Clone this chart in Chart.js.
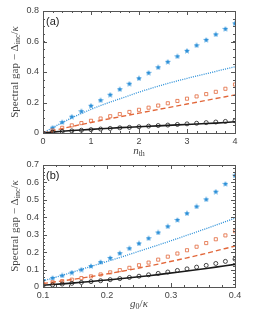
<!DOCTYPE html>
<html>
<head>
<meta charset="utf-8">
<script src="https://cdn.jsdelivr.net/npm/chart.js@4"></script>
<style>
  body { margin: 0; background: #fff; }
  #wrap { position: relative; width: 269px; height: 309px; overflow: hidden; }
  .panel { position: absolute; left: 0; width: 269px; }
</style>
</head>
<body>
<div id="wrap">
  <div class="panel" style="top:0;height:160px"><canvas id="chartA"></canvas></div>
  <div class="panel" style="top:150px;height:159px"><canvas id="chartB"></canvas></div>
</div>
<script>
// --- panel (a): gap vs n_th ---
const nth = [0, 0.2, 0.4, 0.6, 0.8, 1.0, 1.2, 1.4, 1.6, 1.8, 2.0, 2.2, 2.4, 2.6, 2.8, 3.0, 3.2, 3.4, 3.6, 3.8, 4.0];
const starA = [0, 0.035, 0.071, 0.107, 0.143, 0.179, 0.215, 0.251, 0.287, 0.323, 0.359, 0.395, 0.431, 0.467, 0.503, 0.539, 0.575, 0.611, 0.647, 0.683, 0.719];
const dotA = [0, 0.035, 0.068, 0.099, 0.128, 0.155, 0.180, 0.203, 0.224, 0.246, 0.268, 0.288, 0.307, 0.325, 0.342, 0.358, 0.374, 0.389, 0.404, 0.419, 0.434];
const squareA = [0, 0.017, 0.034, 0.05, 0.065, 0.08, 0.095, 0.11, 0.124, 0.138, 0.152, 0.166, 0.18, 0.195, 0.21, 0.225, 0.24, 0.255, 0.27, 0.29, 0.318];
const dashA = [0, 0.015, 0.029, 0.043, 0.056, 0.069, 0.082, 0.094, 0.106, 0.118, 0.13, 0.142, 0.154, 0.166, 0.178, 0.19, 0.202, 0.214, 0.226, 0.238, 0.25];
const circleA = [0, 0.005, 0.01, 0.014, 0.018, 0.022, 0.026, 0.03, 0.034, 0.037, 0.041, 0.045, 0.049, 0.052, 0.056, 0.06, 0.064, 0.068, 0.072, 0.076, 0.08];
const lineA = [0, 0.006, 0.011, 0.016, 0.02, 0.024, 0.028, 0.031, 0.035, 0.038, 0.041, 0.044, 0.047, 0.05, 0.053, 0.056, 0.059, 0.062, 0.065, 0.069, 0.074];

// --- panel (b): gap vs g0/kappa ---
const g0 = [0.1, 0.115, 0.13, 0.145, 0.16, 0.175, 0.19, 0.205, 0.22, 0.235, 0.25, 0.265, 0.28, 0.295, 0.31, 0.325, 0.34, 0.355, 0.37, 0.385, 0.4];
const starB = [0.04, 0.052, 0.066, 0.083, 0.1, 0.12, 0.143, 0.167, 0.194, 0.222, 0.25, 0.28, 0.313, 0.348, 0.385, 0.423, 0.462, 0.503, 0.547, 0.592, 0.64];
const dotB = [0.035, 0.051, 0.067, 0.084, 0.101, 0.118, 0.135, 0.152, 0.169, 0.187, 0.205, 0.223, 0.241, 0.259, 0.278, 0.297, 0.316, 0.335, 0.355, 0.375, 0.395];
const squareB = [0.02, 0.027, 0.034, 0.042, 0.051, 0.061, 0.072, 0.084, 0.097, 0.11, 0.125, 0.14, 0.157, 0.174, 0.192, 0.211, 0.231, 0.252, 0.274, 0.296, 0.32];
const dashB = [0.02, 0.027, 0.035, 0.043, 0.051, 0.06, 0.069, 0.078, 0.088, 0.098, 0.109, 0.12, 0.131, 0.143, 0.155, 0.167, 0.18, 0.193, 0.207, 0.221, 0.235];
const circleB = [0.008, 0.012, 0.017, 0.021, 0.026, 0.031, 0.036, 0.042, 0.048, 0.055, 0.062, 0.07, 0.078, 0.086, 0.095, 0.104, 0.114, 0.124, 0.135, 0.147, 0.16];
const lineB = [0.01, 0.014, 0.018, 0.022, 0.027, 0.032, 0.037, 0.042, 0.047, 0.053, 0.059, 0.065, 0.071, 0.078, 0.085, 0.092, 0.099, 0.106, 0.114, 0.122, 0.13];

const BLUE = '#2a8fd8';
const ORANGE = '#e2673a';
const BLACK = '#1a1a1a';
const TICK_FONT = { family: 'Liberation Sans', size: 9 };
const TITLE_FONT = '"Liberation Serif", serif';

// small filled pentagram for the star markers
function makeStar(color) {
    const c = document.createElement('canvas');
    c.width = 6; c.height = 6;
    const g = c.getContext('2d');
    g.fillStyle = color;
    g.beginPath();
    for (let i = 0; i < 10; i++) {
        const r = i % 2 === 0 ? 3 : 1.4;
        const a = -Math.PI / 2 + i * Math.PI / 5;
        const px = 3 + r * Math.cos(a), py = 3.2 + r * Math.sin(a);
        if (i === 0) g.moveTo(px, py); else g.lineTo(px, py);
    }
    g.closePath();
    g.fill();
    return c;
}
const starImg = makeStar(BLUE);

function pts(xs, ys) {
    return xs.map((x, i) => ({ x: x, y: ys[i] }));
}

function datasets(xs, s, d, q, ds, c, l) {
    return [
        { data: pts(xs, l), borderColor: BLACK, borderWidth: 1.6, pointRadius: 0, showLine: true, order: 5 },
        { data: pts(xs, ds), borderColor: ORANGE, borderWidth: 1.4, borderDash: [5, 3], pointRadius: 0, showLine: true, order: 5 },
        { data: pts(xs, d), borderColor: BLUE, borderWidth: 1.3, borderDash: [1, 1.2], pointRadius: 0, showLine: true, order: 5 },
        { data: pts(xs, c), borderColor: BLACK, borderWidth: 0.8, backgroundColor: 'transparent', pointStyle: 'circle', pointRadius: 2, showLine: false },
        { data: pts(xs, q), borderColor: ORANGE, borderWidth: 0.8, backgroundColor: 'transparent', pointStyle: 'rect', pointRadius: 2.2, showLine: false },
        { data: pts(xs, s), pointStyle: starImg, pointRadius: 3, showLine: false }
    ];
}

// frame with inward ticks on all four sides, plus panel tag and axis titles
function framePlugin(opts) {
    return {
        id: 'frame',
        afterDraw(chart) {
            const ctx = chart.ctx;
            const a = chart.chartArea;
            const xs = chart.scales.x, ys = chart.scales.y;
            ctx.save();
            ctx.strokeStyle = '#555';
            ctx.lineWidth = 1;
            ctx.strokeRect(Math.round(a.left) + 0.5, Math.round(a.top) + 0.5, Math.round(a.right - a.left), Math.round(a.bottom - a.top));

            const tick = (v, len, horiz) => {
                if (horiz) {
                    const p = Math.round(xs.getPixelForValue(v)) + 0.5;
                    ctx.beginPath();
                    ctx.moveTo(p, a.bottom); ctx.lineTo(p, a.bottom - len);
                    ctx.moveTo(p, a.top); ctx.lineTo(p, a.top + len);
                    ctx.stroke();
                } else {
                    const p = Math.round(ys.getPixelForValue(v)) + 0.5;
                    ctx.beginPath();
                    ctx.moveTo(a.left, p); ctx.lineTo(a.left + len, p);
                    ctx.moveTo(a.right, p); ctx.lineTo(a.right - len, p);
                    ctx.stroke();
                }
            };
            const nX = Math.round((xs.max - xs.min) / opts.xMinor);
            for (let i = 0; i <= nX; i++) tick(xs.min + i * opts.xMinor, 2, true);
            const nY = Math.round((ys.max - ys.min) / opts.yMinor);
            for (let i = 0; i <= nY; i++) tick(ys.min + i * opts.yMinor, 2, false);
            xs.ticks.forEach(t => tick(t.value, 4, true));
            ys.ticks.forEach(t => tick(t.value, 4, false));

            // panel tag
            ctx.fillStyle = '#222';
            ctx.font = '11px "Liberation Sans"';
            ctx.textBaseline = 'middle';
            ctx.textAlign = 'left';
            ctx.fillText(opts.tag, a.left + 3, a.top + 11);

            // y title, rotated
            ctx.save();
            ctx.translate(opts.yTitleX, (a.top + a.bottom) / 2);
            ctx.rotate(-Math.PI / 2);
            drawRich(ctx, [
                { t: 'Spectral gap \u2212 \u0394', f: '11px ' + TITLE_FONT, dy: 0 },
                { t: 'inc', f: '8px ' + TITLE_FONT, dy: 3 },
                { t: '/', f: '11px ' + TITLE_FONT, dy: 0 },
                { t: '\u03ba', f: 'italic 11px ' + TITLE_FONT, dy: 0 }
            ]);
            ctx.restore();

            // x title
            ctx.save();
            ctx.translate((a.left + a.right) / 2, opts.xTitleY);
            drawRich(ctx, opts.xTitle);
            ctx.restore();
            ctx.restore();
        }
    };
}

// draws text runs centred on the origin, subscripts shifted down
function drawRich(ctx, parts) {
    let total = 0;
    parts.forEach(p => { ctx.font = p.f; p.w = ctx.measureText(p.t).width; total += p.w; });
    let x = -total / 2;
    ctx.fillStyle = '#444';
    ctx.textAlign = 'left';
    ctx.textBaseline = 'middle';
    parts.forEach(p => {
        ctx.font = p.f;
        ctx.fillText(p.t, x, p.dy);
        x += p.w;
    });
}

function makeChart(id, xs, sets, xOpt, yOpt, pad, xH, frameOpts) {
    return new Chart(document.getElementById(id), {
        type: 'scatter',
        data: { datasets: sets },
        options: {
            responsive: true,
            maintainAspectRatio: false,
            animation: false,
            layout: { padding: pad },
            plugins: { legend: { display: false }, tooltip: { enabled: false } },
            scales: {
                x: Object.assign({
                    type: 'linear',
                    grid: { display: false, drawTicks: false },
                    border: { display: false },
                    ticks: Object.assign({ font: TICK_FONT, color: '#444', padding: 3, maxRotation: 0 }, xOpt.ticks),
                    afterFit: s => { s.height = xH; }
                }, xOpt.range),
                y: Object.assign({
                    grid: { display: false, drawTicks: false },
                    border: { display: false },
                    ticks: Object.assign({ font: TICK_FONT, color: '#444', padding: 4 }, yOpt.ticks),
                    afterFit: s => { s.width = 43; }
                }, yOpt.range)
            }
        },
        plugins: [framePlugin(frameOpts)]
    });
}

makeChart('chartA', nth,
    datasets(nth, starA, dotA, squareA, dashA, circleA, lineA),
    { range: { min: 0, max: 4 }, ticks: { stepSize: 1 } },
    { range: { min: 0, max: 0.8 }, ticks: { stepSize: 0.2 } },
    { top: 11, right: 34, left: 0, bottom: 0 }, 27,
    {
        tag: '(a)', xMinor: 0.2, yMinor: 0.05, yTitleX: 15, xTitleY: 151,
        xTitle: [
            { t: 'n', f: 'italic 11px ' + TITLE_FONT, dy: 0 },
            { t: 'th', f: '8px ' + TITLE_FONT, dy: 3 }
        ]
    });

makeChart('chartB', g0,
    datasets(g0, starB, dotB, squareB, dashB, circleB, lineB),
    { range: { min: 0.1, max: 0.4 }, ticks: { stepSize: 0.1 } },
    { range: { min: 0, max: 0.7 }, ticks: { stepSize: 0.1 } },
    { top: 15, right: 34, left: 0, bottom: 0 }, 22,
    {
        tag: '(b)', xMinor: 0.02, yMinor: 0.02, yTitleX: 15, xTitleY: 154,
        xTitle: [
            { t: 'g', f: 'italic 11px ' + TITLE_FONT, dy: 0 },
            { t: '0', f: '8px ' + TITLE_FONT, dy: 3 },
            { t: '/', f: '11px ' + TITLE_FONT, dy: 0 },
            { t: '\u03ba', f: 'italic 11px ' + TITLE_FONT, dy: 0 }
        ]
    });
</script>
</body>
</html>
